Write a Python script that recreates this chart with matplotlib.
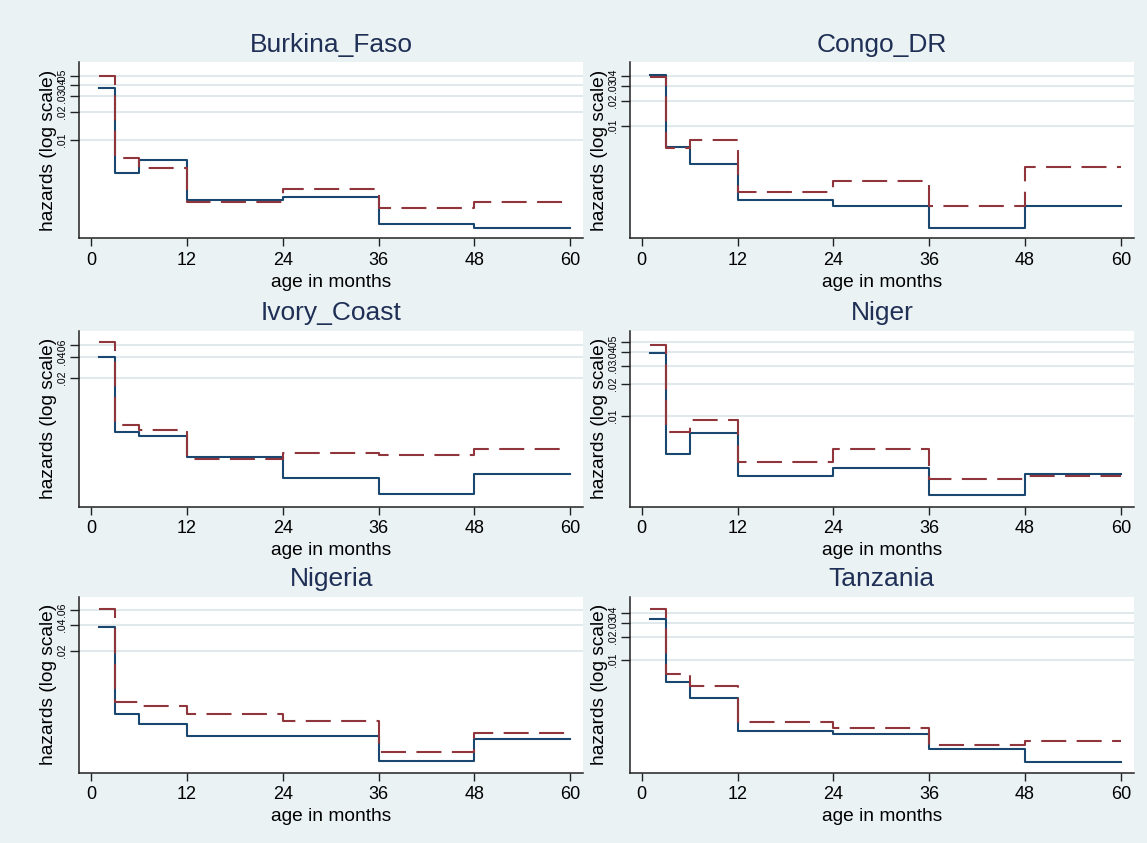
import matplotlib
matplotlib.use("Agg")
import matplotlib.pyplot as plt
from matplotlib.ticker import FixedLocator, FuncFormatter, NullLocator

plt.rcParams['font.family'] = ['Liberation Sans', 'DejaVu Sans']

# ---------------- data ----------------
months = [1, 3, 6, 12, 24, 36, 48, 60]          # interval edges (age in months)
countries = ["Burkina_Faso", "Congo_DR", "Ivory_Coast", "Niger", "Nigeria", "Tanzania"]
xticks = [0, 12, 24, 36, 48, 60]

# solid (navy) hazard series, one value per interval
solid_burkina = [0.0364, 0.00434, 0.00611, 0.00221, 0.00242, 0.00122, 0.00111]
solid_congo = [0.0408, 0.00553, 0.00342, 0.00128, 0.00109, 0.00059, 0.00109]
solid_ivory = [0.0400, 0.00308, 0.00269, 0.00133, 0.00065, 0.00037, 0.00075]
solid_niger = [0.0394, 0.00438, 0.00691, 0.00269, 0.00321, 0.00179, 0.00281]
solid_nigeria = [0.0384, 0.00367, 0.00278, 0.00201, 0.00201, 0.00103, 0.00189]
solid_tanzania = [0.0338, 0.00520, 0.00320, 0.00118, 0.00109, 0.00069, 0.00048]

# dashed (maroon) hazard series
dashed_burkina = [0.0500, 0.00632, 0.00500, 0.00214, 0.00296, 0.00182, 0.00214]
dashed_congo = [0.0382, 0.00543, 0.00666, 0.00160, 0.00217, 0.00109, 0.00315]
dashed_ivory = [0.0673, 0.00395, 0.00330, 0.00124, 0.00152, 0.00142, 0.00175]
dashed_niger = [0.0465, 0.00701, 0.00904, 0.00368, 0.00488, 0.00249, 0.00271]
dashed_nigeria = [0.0611, 0.00506, 0.00459, 0.00370, 0.00307, 0.00132, 0.00220]
dashed_tanzania = [0.0455, 0.00653, 0.00462, 0.00157, 0.00130, 0.00078, 0.00088]

solid = [solid_burkina, solid_congo, solid_ivory, solid_niger, solid_nigeria, solid_tanzania]
dashed = [dashed_burkina, dashed_congo, dashed_ivory, dashed_niger, dashed_nigeria, dashed_tanzania]

# y tick values per panel
yticks = [
    [0.01, 0.02, 0.03, 0.04, 0.05],
    [0.01, 0.02, 0.03, 0.04],
    [0.02, 0.04, 0.06],
    [0.01, 0.02, 0.03, 0.04, 0.05],
    [0.02, 0.04, 0.06],
    [0.01, 0.02, 0.03, 0.04],
]
# y axis ranges per panel
ylims = [
    (0.000853, 0.0698),
    (0.000439, 0.0580),
    (0.000245, 0.1001),
    (0.00138, 0.0645),
    (0.000754, 0.0858),
    (0.000345, 0.0656),
]
xlim = (-1.47, 61.6)

# ---------------- layout / style ----------------
W, H = 1147, 843
BG = '#EAF2F3'
NAVY = '#1A476F'
MAROON = '#90353B'
GRID = '#E1E9EC'
AXC = '#222222'
TITLEC = '#1F2F55'

fig = plt.figure(figsize=(W / 100, H / 100), dpi=100)
fig.patch.set_facecolor(BG)

lefts = [79.3, 630.0]
tops = [62.3, 330.5, 596.7]
aw, ah = 503.7, 176.0


def fmt(v, pos):
    return f"{v:.2f}".lstrip('0')


for i, name in enumerate(countries):
    r, c = divmod(i, 2)
    l, t = lefts[c], tops[r]
    ax = fig.add_axes([l / W, 1 - (t + ah) / H, aw / W, ah / H])
    ax.set_facecolor('white')
    ax.set_yscale('log')

    s_vals = solid[i] + [solid[i][-1]]
    d_vals = dashed[i] + [dashed[i][-1]]
    ax.step(months, s_vals, where='post', color=NAVY, lw=1.5, zorder=3)
    ax.step(months, d_vals, where='post', color=MAROON, lw=1.5,
            dashes=(12, 5), zorder=4)

    ax.set_xlim(*xlim)
    ax.set_ylim(*ylims[i])
    ax.xaxis.set_major_locator(FixedLocator(xticks))
    ax.yaxis.set_major_locator(FixedLocator(yticks[i]))
    ax.yaxis.set_minor_locator(NullLocator())
    ax.yaxis.set_major_formatter(FuncFormatter(fmt))

    ax.grid(axis='y', which='major', color=GRID, lw=1.5)
    ax.set_axisbelow(True)

    for sp in ['top', 'right']:
        ax.spines[sp].set_visible(False)
    for sp in ['left', 'bottom']:
        ax.spines[sp].set_color(AXC)
        ax.spines[sp].set_linewidth(1.1)

    ax.tick_params(axis='x', length=6, width=1.0, color=AXC, labelsize=13, pad=3.7)
    ax.tick_params(axis='y', length=6.2, width=1.0, color=AXC, labelsize=7.5,
                   labelrotation=90, pad=2.5)
    for lab in ax.get_yticklabels():
        lab.set_va('center')

    cx = l + aw / 2
    fig.text(cx / W, 1 - 52 / H - (t - 62.3) / H, name, ha='center', va='baseline',
             fontsize=19, color=TITLEC)
    fig.text(cx / W, 1 - (t + ah + 48.4) / H, 'age in months', ha='center',
             va='baseline', fontsize=13.8, color='black')
    fig.text((l - 26.5) / W, 1 - (t + ah / 2) / H, 'hazards (log scale)',
             rotation=90, rotation_mode='anchor', ha='center', va='baseline',
             fontsize=13.8, color='black')

fig.savefig('out.png', dpi=100, facecolor=BG)
